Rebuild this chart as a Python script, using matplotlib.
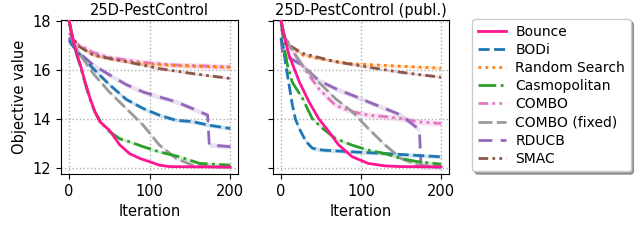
import numpy as np
import matplotlib.pyplot as plt

# (iteration, best objective value)
methods = ["Bounce", "BODi", "Random Search", "Casmopolitan", "COMBO",
           "COMBO (fixed)", "RDUCB", "SMAC"]

# --- 25D-PestControl ---
left_bounce_x = [0, 5, 10, 14, 20, 26, 32, 38, 50, 63, 75, 88, 100, 112, 125, 200]
left_bounce_y = [18.0, 17.2, 16.6, 16.2, 15.5, 14.85, 14.3, 13.9, 13.55, 12.95, 12.6, 12.4, 12.27, 12.13, 12.07, 12.05]
left_bodi_x = [0, 5, 14, 30, 50, 71, 92, 112, 133, 153, 174, 200]
left_bodi_y = [17.2, 16.95, 16.6, 16.05, 15.4, 14.8, 14.43, 14.16, 13.95, 13.9, 13.75, 13.62]
left_rs_x = [0, 4, 10, 30, 50, 92, 130, 200]
left_rs_y = [18.0, 17.4, 17.0, 16.6, 16.45, 16.25, 16.18, 16.1]
left_casmo_x = [0, 5, 10, 14, 20, 26, 32, 40, 50, 63, 75, 92, 112, 137, 162, 200]
left_casmo_y = [18.0, 17.15, 16.55, 16.15, 15.45, 14.8, 14.3, 13.85, 13.5, 13.2, 13.08, 12.88, 12.67, 12.47, 12.2, 12.13]
left_combo_x = [0, 4, 10, 30, 50, 92, 130, 200]
left_combo_y = [17.5, 17.3, 17.05, 16.7, 16.5, 16.3, 16.2, 16.12]
left_combof_x = [0, 5, 14, 30, 50, 71, 92, 112, 133, 153, 174, 200]
left_combof_y = [18.0, 17.1, 16.6, 15.85, 15.1, 14.43, 13.75, 12.95, 12.4, 12.13, 12.07, 12.05]
left_rducb_x = [0, 5, 14, 30, 50, 71, 92, 112, 133, 153, 172, 174, 200]
left_rducb_y = [17.3, 17.0, 16.65, 16.2, 15.8, 15.4, 15.1, 14.9, 14.7, 14.43, 14.16, 12.95, 12.88]
left_smac_x = [0, 4, 10, 30, 71, 112, 153, 200]
left_smac_y = [18.0, 17.4, 17.0, 16.6, 16.33, 16.05, 15.85, 15.65]

# --- 25D-PestControl (publ.) ---
right_bounce_x = [0, 3, 10, 23, 35, 47, 60, 72, 89, 109, 130, 150, 200]
right_bounce_y = [18.0, 17.5, 16.6, 15.5, 14.7, 14.02, 13.48, 12.95, 12.47, 12.2, 12.1, 12.07, 12.06]
right_bodi_x = [0, 3, 6, 10, 14, 18, 23, 31, 39, 52, 90, 130, 200]
right_bodi_y = [17.3, 16.9, 16.2, 15.4, 14.6, 14.0, 13.6, 13.1, 12.82, 12.74, 12.67, 12.6, 12.47]
right_rs_x = [0, 4, 10, 27, 47, 89, 130, 200]
right_rs_y = [18.0, 17.4, 17.0, 16.6, 16.45, 16.25, 16.18, 16.07]
right_casmo_x = [0, 4, 8, 14, 27, 39, 52, 68, 89, 109, 130, 150, 171, 200]
right_casmo_y = [18.0, 16.9, 16.2, 15.5, 14.83, 14.02, 13.62, 13.21, 12.94, 12.74, 12.6, 12.4, 12.27, 12.17]
right_combo_x = [0, 6, 18, 35, 47, 68, 89, 109, 130, 150, 171, 200]
right_combo_y = [17.66, 17.26, 16.58, 15.78, 15.24, 14.56, 14.3, 14.16, 14.1, 14.02, 13.89, 13.82]
right_combof_x = [0, 4, 10, 27, 47, 68, 89, 109, 130, 150, 171, 200]
right_combof_y = [18.0, 17.4, 17.0, 16.18, 15.5, 14.83, 14.3, 13.62, 12.95, 12.4, 12.13, 12.07]
right_rducb_x = [0, 2, 10, 27, 47, 68, 89, 109, 130, 150, 171, 173, 175, 200]
right_rducb_y = [17.26, 16.65, 16.5, 16.18, 15.57, 15.24, 14.97, 14.7, 14.43, 14.16, 13.62, 13.55, 12.07, 12.05]
right_smac_x = [0, 4, 10, 27, 68, 109, 150, 200]
right_smac_y = [18.0, 17.4, 17.0, 16.67, 16.33, 16.11, 15.9, 15.7]

# rough half-width of the shaded bands
band = [0.03, 0.08, 0.06, 0.06, 0.12, 0.06, 0.1, 0.05]

colors = ["#ff1493", "#1f77b4", "#ff7f0e", "#2ca02c", "#e377c2",
          "#9a9a9a", "#9467bd", "#8c564b"]
styles = ["-", (0, (4, 1.6)), (0, (1, 1.5)), "-.", (0, (3.5, 1.5, 1, 1.5, 1, 1.5)),
          (0, (5, 1.6)), (0, (5, 3)), (0, (3.5, 1.5, 1, 1.5, 1, 1.5))]

left = [(left_bounce_x, left_bounce_y), (left_bodi_x, left_bodi_y), (left_rs_x, left_rs_y),
        (left_casmo_x, left_casmo_y), (left_combo_x, left_combo_y), (left_combof_x, left_combof_y),
        (left_rducb_x, left_rducb_y), (left_smac_x, left_smac_y)]
right = [(right_bounce_x, right_bounce_y), (right_bodi_x, right_bodi_y), (right_rs_x, right_rs_y),
         (right_casmo_x, right_casmo_y), (right_combo_x, right_combo_y), (right_combof_x, right_combof_y),
         (right_rducb_x, right_rducb_y), (right_smac_x, right_smac_y)]

fig = plt.figure(figsize=(6.4, 2.42), dpi=100)
ax1 = fig.add_axes([0.0953, 0.281, 0.277, 0.636])
ax2 = fig.add_axes([0.4266, 0.281, 0.275, 0.636])

# draw order: Bounce on top
order = [4, 2, 7, 6, 1, 5, 3, 0]
for ax, data, title in [(ax1, left, "25D-PestControl"), (ax2, right, "25D-PestControl (publ.)")]:
    for k, i in enumerate(order):
        x, y = np.array(data[i][0]), np.array(data[i][1])
        ax.fill_between(x, y - band[i], y + band[i], color=colors[i], alpha=0.2, lw=0, zorder=2)
        ax.plot(x, y, color=colors[i], linestyle=styles[i], lw=2, label=methods[i], zorder=3 + k * 0.1)
    ax.set_xlim(-10, 210)
    ax.set_ylim(11.77, 18.02)
    ax.set_xticks([0, 100, 200])
    ax.set_yticks([12, 14, 16, 18])
    ax.grid(True, linestyle=":", color="#b0b0b0", lw=1)
    ax.set_xlabel("Iteration", fontsize=10.5)
    ax.set_title(title, fontsize=10.5, pad=4)
    ax.tick_params(labelsize=10.5)
ax1.set_ylabel("Objective value", fontsize=10.5)
ax2.set_yticklabels([])

handles, labels = ax1.get_legend_handles_labels()
lookup = dict(zip(labels, handles))
fig.legend([lookup[m] for m in methods], methods, loc="upper left",
           bbox_to_anchor=(0.727, 0.95), fontsize=10, shadow=True, handlelength=2.0,
           handletextpad=0.7, borderpad=0.4, labelspacing=0.3)

fig.savefig("out.png", dpi=100)
